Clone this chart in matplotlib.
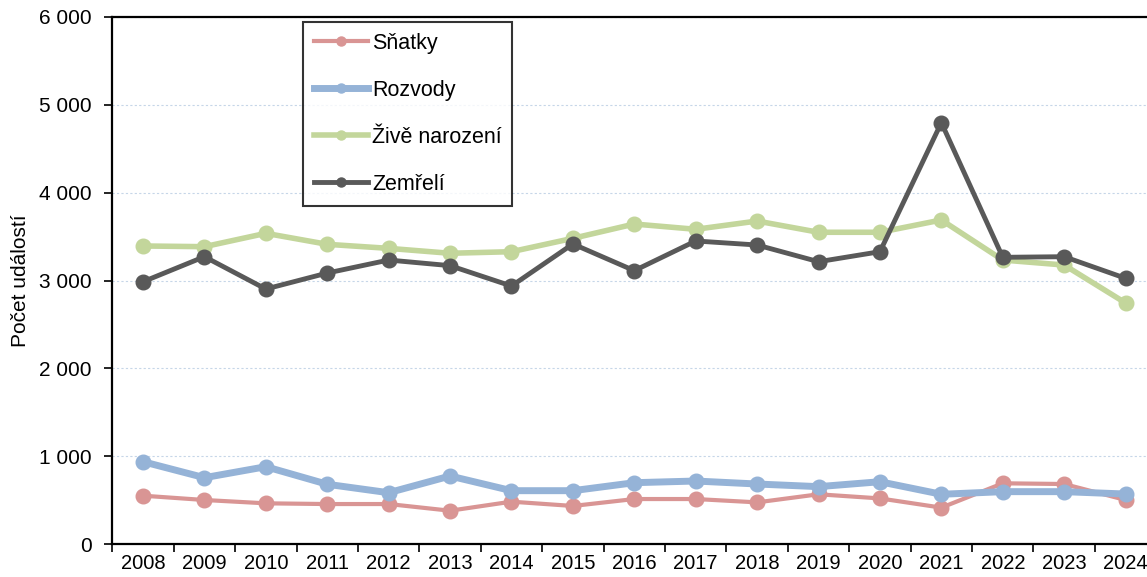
import numpy as np
import matplotlib.pyplot as plt
from matplotlib.lines import Line2D
from matplotlib.ticker import FuncFormatter

plt.rcParams['font.family'] = ['Liberation Sans', 'DejaVu Sans']

years = [str(r) for r in range(2008, 2025)]
snatky = [550, 501, 463, 455, 455, 379, 482, 433, 512, 512, 474, 566, 519, 414, 691, 683, 501]
rozvody = [937, 755, 880, 680, 584, 774, 607, 607, 698, 717, 683, 653, 709, 566, 596, 596, 569]
narozeni = [3393, 3385, 3537, 3412, 3366, 3310, 3328, 3480, 3643, 3583, 3677, 3549, 3549, 3689, 3233, 3176, 2744]
zemreli = [2986, 3271, 2903, 3085, 3233, 3169, 2937, 3416, 3112, 3450, 3404, 3214, 3328, 4797, 3264, 3271, 3025]

series = [
    ("Sňatky", snatky, "#d99594", 3.0),
    ("Rozvody", rozvody, "#95b3d7", 5.0),
    ("Živě narození", narozeni, "#c3d69b", 4.0),
    ("Zemřelí", zemreli, "#595959", 3.5),
]

W, H = 1147, 577
fig = plt.figure(figsize=(W / 100, H / 100), dpi=100)
ax = fig.add_axes([112.3 / W, (H - 544) / H, 1044 / W, 527 / H])

x = np.arange(len(years))
handles = []
for name, vals, col, lw in series:
    ax.plot(x, vals, color=col, lw=lw, marker='o', ms=10.5, label=name)
    handles.append(Line2D([0], [0], color=col, lw=lw, marker='o', ms=6.5, label=name))

ax.set_xlim(-0.5, len(years) - 0.5)
ax.set_ylim(0, 6000)
ax.set_yticks(np.arange(0, 6001, 1000))
ax.yaxis.set_major_formatter(FuncFormatter(lambda v, p: f"{v:,.0f}".replace(",", " ")))
ax.set_xticks(x)
ax.set_xticklabels(years)
ax.set_xticks(np.arange(-0.5, len(years)), minor=True)
ax.tick_params(axis='x', which='major', length=0, labelsize=14.5, pad=7.5)
ax.tick_params(axis='x', which='minor', length=6, width=1.2, direction='out')
ax.tick_params(axis='y', length=6, width=1.2, labelsize=15, pad=9)

ax.grid(axis='y', color='#c6d6e8', ls=(0, (2, 2)), lw=0.8)
ax.set_axisbelow(True)
for side in ['left', 'bottom', 'top', 'right']:
    ax.spines[side].set_linewidth(1.6)
    ax.spines[side].set_color('black')

ax.set_ylabel("Počet událostí", fontsize=15)
ax.yaxis.set_label_coords(-82 / 1044, 0.5)

leg = ax.legend(handles=handles, loc='upper left', bbox_to_anchor=(0.1827, 0.9905),
                fontsize=15.5, frameon=True, fancybox=False, edgecolor='black',
                handlelength=2.5, handletextpad=0.2, labelspacing=1.21,
                borderpad=0.5, borderaxespad=0)
leg.get_frame().set_linewidth(1.5)

plt.savefig("out.png", dpi=100)
